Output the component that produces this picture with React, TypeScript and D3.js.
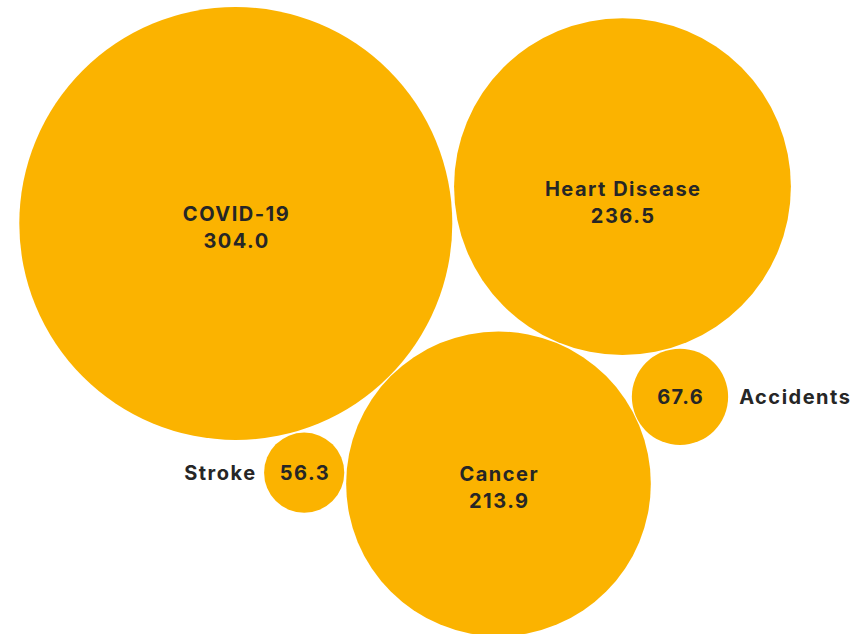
import React from "react";
import * as d3 from "d3";

const categories = ["COVID-19", "Heart Disease", "Cancer", "Accidents", "Stroke"];
const values = [304.0, 236.5, 213.9, 67.6, 56.3];

const WIDTH = 862;
const HEIGHT = 634;
const FILL = "#FBB300";
const TEXT = "#262626";
const FONT = "Inter, 'Noto Sans', sans-serif";
const LS = 1.5;

type Node = { name: string; value: number; r: number; x: number; y: number };

function tangent(A: Node, B: Node, r: number, padA: number, padB: number, sign: number) {
  const dx = B.x - A.x, dy = B.y - A.y;
  const d = Math.hypot(dx, dy);
  const a = A.r + r + padA, b = B.r + r + padB;
  const x = (d * d + a * a - b * b) / (2 * d);
  const h = Math.sqrt(Math.max(0, a * a - x * x));
  const ux = dx / d, uy = dy / d;
  const nx = -uy, ny = ux;
  return { x: A.x + x * ux + sign * h * nx, y: A.y + x * uy + sign * h * ny };
}

function layout(): Node[] {
  const rScale = d3.scaleLinear().domain([0, d3.max(values)!]).range([0, 216.5]);
  const nodes: Node[] = categories.map((name, i) => ({ name, value: values[i], r: rScale(values[i]), x: 0, y: 0 }));
  const [covid, heart, cancer, acc, stroke] = nodes;
  const ang = Math.atan2(-36.9, 386.6);
  const d01 = covid.r + heart.r + 3.5;
  heart.x = Math.cos(ang) * d01;
  heart.y = Math.sin(ang) * d01;
  Object.assign(cancer, tangent(covid, heart, cancer.r, 1, 1.3, 1));
  Object.assign(acc, tangent(heart, cancer, acc.r, 1.4, 0.8, -1));
  Object.assign(stroke, tangent(covid, cancer, stroke.r, 1.8, 2.2, 1));
  const minX = d3.min(nodes, (n) => n.x - n.r)!;
  const minY = d3.min(nodes, (n) => n.y - n.r)!;
  const ox = 19.3 - minX, oy = 7 - minY;
  nodes.forEach((n) => { n.x += ox; n.y += oy; });
  return nodes;
}

const LABEL_NUDGE: Record<string, number> = { "Heart Disease": 12 };

export default function App() {
  const nodes = layout();
  const meanX = d3.mean(nodes, (n) => n.x)!;
  const fmt = d3.format(".1f");
  const style = { fontFamily: FONT, fontWeight: 700, fontSize: 20, letterSpacing: LS } as React.CSSProperties;
  return (
    <div style={{ position: "absolute", left: 0, top: 0 }}>
      <svg width={WIDTH} height={HEIGHT} style={{ display: "block" }}>
        <rect width={WIDTH} height={HEIGHT} fill="#ffffff" />
        {nodes.map((n) => (
          <circle key={n.name} cx={n.x} cy={n.y} r={n.r} fill={FILL} />
        ))}
        {nodes.map((n) => {
          const big = n.r > 100;
          const cx = n.x + LS / 2;
          if (big) {
            const nudge = LABEL_NUDGE[n.name] || 0;
            return (
              <g key={n.name + "-l"} style={style} fill={TEXT} textAnchor="middle">
                <text x={cx} y={n.y - 9.5 + nudge} dominantBaseline="central">{n.name}</text>
                <text x={cx} y={n.y + 17.5 + nudge} dominantBaseline="central">{fmt(n.value)}</text>
              </g>
            );
          }
          const left = n.x < meanX;
          return (
            <g key={n.name + "-l"} style={style} fill={TEXT}>
              <text x={cx} y={n.y} textAnchor="middle" dominantBaseline="central">{fmt(n.value)}</text>
              <text
                x={left ? n.x - n.r - 9 + LS : n.x + n.r + 11}
                y={n.y}
                textAnchor={left ? "end" : "start"}
                dominantBaseline="central"
              >
                {n.name}
              </text>
            </g>
          );
        })}
      </svg>
    </div>
  );
}
